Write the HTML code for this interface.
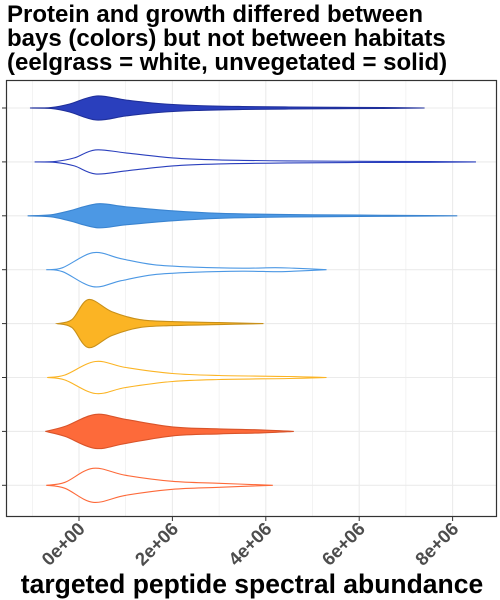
<!DOCTYPE html>
<html><head><meta charset="utf-8"><style>
body{margin:0;background:#fff;}
svg{display:block;font-family:"Liberation Sans",Arial,sans-serif;}
</style></head><body>
<svg id="c" width="500" height="600">
<g font-size="24" font-weight="bold" fill="#000">
<text x="7" y="22">Protein and growth differed between</text>
<text x="7" y="46">bays (colors) but not between habitats</text>
<text x="7" y="70">(eelgrass = white, unvegetated = solid)</text>
</g>
<g id="grid"></g>
<g id="marks"></g>
<rect x="6.5" y="80.5" width="490" height="436" fill="none" stroke="#333" stroke-width="1.2"/>
<g id="axis"></g>
<text x="252" y="593" text-anchor="middle" font-size="26.5" font-weight="bold">targeted peptide spectral abundance</text>
</svg>
<script>
const tickValues=[0,2,4,6,8];
const tickLabels=["0e+00","2e+06","4e+06","6e+06","8e+06"];
const violinNames=["v1","v2","v3","v4","v5","v6","v7","v8"];
const fills=["#2a3fbd","none","#4c98e4","none","#fbb424","none","#fd6a3a","none"];
const strokes=["#1f2f9a","#2a3fbd","#3a84d0","#4c98e4","#c8901a","#fbb424","#d9542a","#fd6a3a"];
const xs1=[-1.05,-0.6,-0.2,0.37,1.0,1.7,2.5,3.5,4.5,5.5,6.5,7.4], ws1=[0,0.5,4,12,8,4.5,2.5,1.5,1,0.7,0.5,0];
const xs2=[-0.95,-0.5,-0.1,0.35,1.0,2.0,3.0,4.5,6,7.5,8.5], ws2=[0,0.5,4,12,9,4,2,1,0.6,0.4,0];
const xs3=[-1.1,-0.6,-0.2,0.4,1.0,2.0,3.0,4.5,6,7,8.1], ws3=[0,1,5,12,9,5,2.5,1.2,0.7,0.4,0];
const xs4=[-0.7,-0.35,0.3,0.9,1.6,2.5,3.5,4.2,4.6,5.3], ws4=[0,2,17,11,5,2.5,1.5,2,1.5,0];
const xs5=[-0.47,-0.15,0.2,0.7,1.3,2.0,3.0,3.95], ws5=[0,4,24,12,4,2,1,0];
const xs6=[-0.68,-0.3,0.35,1.0,2.0,3.0,4.5,5.3], ws6=[0,2.5,16,10,4,2,1,0];
const xs7=[-0.72,-0.3,0.35,1.0,2.0,3.0,3.9,4.6], ws7=[0,5,17,12,4.5,2.5,1.5,0];
const xs8=[-0.7,-0.3,0.3,1.0,2.0,3.0,4.15], ws8=[0,3,17,10,4,2,0];
const XS=[xs1,xs2,xs3,xs4,xs5,xs6,xs7,xs8], WS=[ws1,ws2,ws3,ws4,ws5,ws6,ws7,ws8];
const NS="http://www.w3.org/2000/svg";
const x0=79, pxPer=46.7;
function xScale(v){return x0+v*pxPer;}
function yScale(i){return 108+i*53.9;}
function mk(t,a,p){const e=document.createElementNS(NS,t);for(const k in a)e.setAttribute(k,a[k]);p.appendChild(e);return e;}
const grid=document.getElementById('grid'),marks=document.getElementById('marks'),axis=document.getElementById('axis');
for(let v=-1;v<=9;v+=1){const x=xScale(v);if(x<7||x>496)continue;
 const l=mk('line',{x1:x,x2:x,y1:81,y2:516,stroke:"#ebebeb","stroke-width":v%2===0?1.1:0.6},grid);
 
 }
for(let i=0;i<8;i++){const y=yScale(i);
 const l=mk('line',{x1:7,x2:496,y1:y,y2:y,stroke:"#ebebeb","stroke-width":1.1},grid);
 
 
 const t=mk('line',{x1:2,x2:6,y1:y,y2:y,stroke:"#333"},axis);
 
 }
tickValues.forEach((v,i)=>{const x=xScale(v);
 const t=mk('line',{x1:x,x2:x,y1:517,y2:521,stroke:"#333"},axis);
 
 
 const tx=mk('text',{x:x+7,y:530,"text-anchor":"end","font-size":"18.5","font-weight":"bold",fill:"#4d4d4d",transform:`rotate(-45 ${x+7} 530)`},axis);
 tx.textContent=tickLabels[i];
 
 });
function curve(pts){let d=`M${pts[0][0]},${pts[0][1]}`;
 for(let i=0;i<pts.length-1;i++){const p0=pts[Math.max(i-1,0)],p1=pts[i],p2=pts[i+1],p3=pts[Math.min(i+2,pts.length-1)];
  d+=` C${p1[0]+(p2[0]-p0[0])/6},${p1[1]+(p2[1]-p0[1])/6} ${p2[0]-(p3[0]-p1[0])/6},${p2[1]-(p3[1]-p1[1])/6} ${p2[0]},${p2[1]}`;}
 return d;}
for(let i=0;i<8;i++){const y=yScale(i),xs=XS[i],ws=WS[i];
 const top=xs.map((v,j)=>[xScale(v),y-ws[j]]);
 const bot=xs.map((v,j)=>[xScale(v),y+ws[j]]).reverse();
 const d=curve(top)+" "+curve(bot).replace(/^M/,"L")+"Z";
 const p=mk('path',{d:d,fill:fills[i]==="none"?"#fff":fills[i],stroke:strokes[i],"stroke-width":1.1},marks);
 
 }
</script>
</body></html>
